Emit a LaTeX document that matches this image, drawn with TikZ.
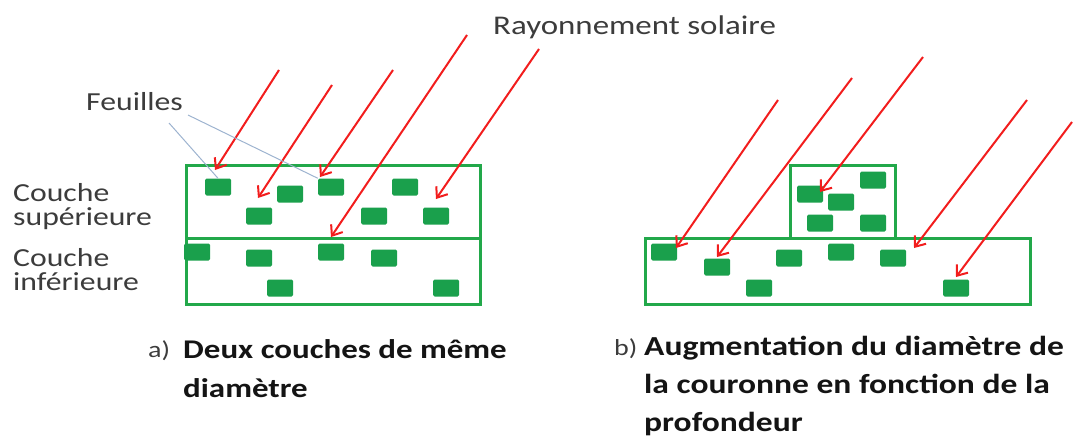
\documentclass[tikz,border=0pt]{standalone}
\usepackage{fontspec}
\setmainfont{Carlito}
\newfontfamily\labelfont[FakeStretch=1.22]{Carlito}
\usepackage{xcolor}
\definecolor{cLeaf}{HTML}{1AA04C}
\definecolor{cLayer}{HTML}{22A84A}
\definecolor{cRay}{HTML}{F21D1D}
\definecolor{cText}{HTML}{3C3C3C}
\definecolor{cCap}{HTML}{141414}
\definecolor{cPoint}{HTML}{9DB3CF}
\usetikzlibrary{arrows.meta}
\tikzset{
  layer-box/.style={draw=cLayer,line width=2.8pt,inner sep=0pt,anchor=north west},
  leaf/.style={fill=cLeaf,rounded corners=1.5pt,minimum width=26pt,
    minimum height=17pt,inner sep=0pt},
  ray/.style={-{Straight Barb[length=9pt,width=14pt,line width=2pt]},
    line width=2pt,draw=cRay},
  pointer/.style={draw=cPoint,line width=1pt},
  text-label/.style={font=\labelfont\fontsize{26}{24}\selectfont,text=cText,
    align=left,inner sep=0pt,anchor=base west},
  caption/.style={font=\labelfont\bfseries\fontsize{27}{39}\selectfont,
    text=cCap,align=left,inner sep=0pt,anchor=base west},
  caption-tag/.style={font=\labelfont\fontsize{23}{24}\selectfont,text=cText,
    inner sep=0pt,anchor=base west},
}

\begin{document}
\begin{tikzpicture}[x=1pt,y=-1pt]
  \useasboundingbox (0,0) rectangle (1073,441);

  % a) two layers of same diameter
  \node[layer-box,minimum width=294pt,minimum height=73pt] (upA) at (185,164) {};
  \node[layer-box,minimum width=294pt,minimum height=66pt] (lowA) at (185,237) {};
  \foreach \x/\y [count=\i] in {218/187,290/194,331/187,405/187,259/216,374/216,
      436/216,197/252,259/258,331/252,384/258,280/288,446/288}
    \node[leaf] (leafA\i) at (\x,\y) {};

  % b) narrow top layer on a wide bottom layer
  \node[layer-box,minimum width=105pt,minimum height=73pt] (upB) at (789,164) {};
  \node[layer-box,minimum width=385pt,minimum height=66pt] (lowB) at (644,237) {};
  \foreach \x/\y [count=\i] in {873/180,810/194,841/202,820/223,873/223,664/252,
      717/267,789/258,841/252,893/258,759/288,956/288}
    \node[leaf] (leafB\i) at (\x,\y) {};

  % sun rays
  \foreach \sx/\sy/\ex/\ey [count=\i] in {279/70/215/170,332/85/258/198,
      393/70/320/177,467/35/331/237,539/49/436/199}{
    \coordinate (sunA\i) at (\sx,\sy);
    \coordinate (hitA\i) at (\ex,\ey);
    \draw[ray] (sunA\i) -- (hitA\i);
  }
  \foreach \sx/\sy/\ex/\ey [count=\i] in {778/100/676/248,852/78/717/257,
      923/57/820/192,1027/100/914/248,1072/122/956/277}{
    \coordinate (sunB\i) at (\sx,\sy);
    \coordinate (hitB\i) at (\ex,\ey);
    \draw[ray] (sunB\i) -- (hitB\i);
  }

  % labels (base anchor = last line)
  \node[text-label,font=\labelfont\fontsize{27}{27}\selectfont] (lblRay)
    at (493,35) {Rayonnement solaire};
  \node[text-label] (lblLeaf) at (86,111) {Feuilles};
  \coordinate (ptA) at (169,123);
  \coordinate (ptB) at (188,115);
  \draw[pointer] (ptA) -- (leafA1.north);
  \draw[pointer] (ptB) -- (leafA3.north west);
  \node[text-label] (lblUp) at (13,225) {Couche\\supérieure};
  \node[text-label] (lblLow) at (13,290) {Couche\\inférieure};

  % captions
  \node[caption-tag] (tagA) at (148,357) {a)};
  \node[caption] (capA) at (183,397) {Deux couches de même\\diamètre};
  \node[caption-tag] (tagB) at (614,355) {b)};
  \node[caption,font=\labelfont\bfseries\fontsize{27.5}{38}\selectfont] (capB)
    at (644,431) {Augmentation du diamètre de\\la couronne en fonction de la\\profondeur};
\end{tikzpicture}
\end{document}
